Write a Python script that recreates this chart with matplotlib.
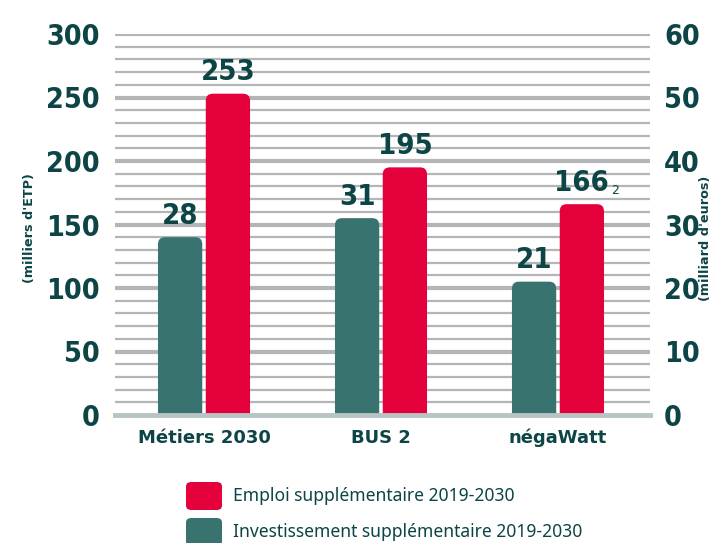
import matplotlib
matplotlib.use("Agg")
import matplotlib.pyplot as plt
from matplotlib.patches import FancyBboxPatch
import numpy as np

categories = ["Métiers 2030", "BUS 2", "négaWatt"]
emploi = [253, 195, 166]          # milliers d'ETP (left axis)
invest = [28, 31, 21]             # milliards d'euros (right axis)
left_ticks = [0, 50, 100, 150, 200, 250, 300]
right_ticks = [0, 10, 20, 30, 40, 50, 60]
legend_labels = ["Emploi supplémentaire 2019-2030", "Investissement supplémentaire 2019-2030"]

RED = "#E4003A"
TEAL = "#387370"
DARK = "#0D4546"
GRID = "#B3B5B7"
BASE = "#B8C3C3"

NUM = dict(family="DejaVu Sans", fontstretch="condensed", fontweight="bold")

fig = plt.figure(figsize=(7.12, 5.43), dpi=100)
ax = fig.add_axes([115/712, 1-415/543, 535/712, 381/543])
ax.set_xlim(-0.503, 2.52)
ax.set_ylim(0, 300)
ax2 = ax.twinx()
ax2.set_ylim(0, 60)

# grid lines
for v in range(10, 301, 10):
    lw = 3.0 if v % 50 == 0 else 1.6
    ax.axhline(v, color=GRID, lw=lw, zorder=0)
ax.axhline(0, color=BASE, lw=3.5, zorder=3, clip_on=False)

x = np.arange(len(categories))
w = 0.25
off = 0.135
scale = 300 / 60
bars_t = ax.bar(x - off, [v * scale for v in invest], width=w, color=TEAL, zorder=1)
bars_r = ax.bar(x + off, emploi, width=w, color=RED, zorder=1)

# replace with rounded-top bars
px_x = (2.52 + 0.503) / 535
px_y = 300 / 381
for bars in (bars_t, bars_r):
    for b in bars:
        b.set_visible(False)
        bx, by, bw, bh = b.get_x(), b.get_y(), b.get_width(), b.get_height()
        ext = 12 * px_y
        p = FancyBboxPatch((bx, by - ext), bw, bh + ext,
                           boxstyle=f"round,pad=0,rounding_size={7*px_x}",
                           mutation_aspect=px_y / px_x,
                           facecolor=b.get_facecolor(), edgecolor="none",
                           zorder=1, clip_on=True)
        ax.add_patch(p)

# value labels
for i in range(len(categories)):
    ax.text(x[i] - off, invest[i] * scale + 6, f"{invest[i]}", ha="center", va="bottom",
            fontsize=21, color=DARK, **NUM)
    ax.text(x[i] + off, emploi[i] + 6, f"{emploi[i]}", ha="center", va="bottom",
            fontsize=21, color=DARK, **NUM)
# footnote marker
ax.text(x[2] + off + 0.165, emploi[2] + 6, "2", ha="left", va="bottom",
        fontsize=9, color=DARK)

for a in (ax, ax2):
    for s in a.spines.values():
        s.set_visible(False)

ax.set_xticks(x)
ax.set_xticklabels(categories, fontsize=13, fontweight="bold", color=DARK)
ax.tick_params(axis="x", length=0, pad=10)

ax.set_yticks(left_ticks)
ax.set_yticklabels([str(t) for t in left_ticks], fontsize=20.5, color=DARK, **NUM)
ax.tick_params(axis="y", length=0, pad=11)

ax2.set_yticks(right_ticks)
ax2.set_yticklabels([str(t) for t in right_ticks], fontsize=20.5, color=DARK, **NUM)
ax2.tick_params(axis="y", length=0, pad=10)

fig.text(30/712, 1-228/543, "(milliers d'ETP)", rotation=90, ha="center", va="center",
         fontsize=9.2, fontweight="bold", color=DARK)
fig.text(705/712, 1-238/543, "(milliard d'euros)", rotation=90, ha="center", va="center",
         fontsize=9.2, fontweight="bold", color=DARK)

# legend
leg_colors = [RED, TEAL]
leg_y = [496, 532]
for lab, col, yy in zip(legend_labels, leg_colors, leg_y):
    fig.patches.append(FancyBboxPatch((186/712, 1-(yy+14)/543), 36/712, 28/543,
                                      boxstyle="round,pad=0,rounding_size=0.008",
                                      transform=fig.transFigure, facecolor=col,
                                      edgecolor="none", figure=fig))
    fig.text(233/712, 1-yy/543, lab, ha="left", va="center", fontsize=12.6,
             color=DARK, family=["Noto Sans", "DejaVu Sans"])

fig.savefig("out.png", dpi=100)
